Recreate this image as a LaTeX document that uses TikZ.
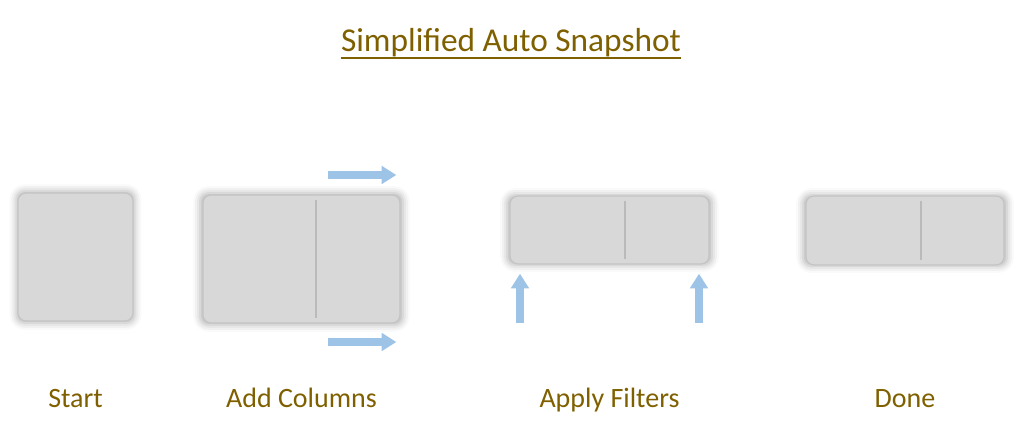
\documentclass[tikz,border=0pt]{standalone}
\usepackage{fontspec}
\setmainfont{Carlito}
\usepackage{xcolor}
\usetikzlibrary{positioning,arrows.meta,shadows.blur}
\definecolor{labelgold}{RGB}{127,96,0}
\definecolor{boxgrey}{RGB}{216,216,216}
\definecolor{boxline}{RGB}{196,196,196}
\definecolor{arrowblue}{RGB}{157,195,230}

\begin{document}
\begin{tikzpicture}[x=0.75pt,y=-0.75pt,
		table/.style = {rectangle, rounded corners=6pt, fill=boxgrey, draw=boxline, line width=0.9pt,
			blur shadow={shadow xshift=0pt, shadow yshift=0pt, shadow blur radius=5pt, shadow opacity=30, shadow scale=1.03},
			inner sep=0pt},
		divider/.style = {draw=black!27, line width=1.4pt},
		label/.style = {text=labelgold, font=\fontsize{21}{23}\selectfont},
		blockarrow/.style = {draw=arrowblue, line width=6pt, -{Triangle[length=11pt,width=13pt]}, shorten >=-1pt}]
	\useasboundingbox (0,0) rectangle (1024,442);

	\node[text=labelgold, font=\fontsize{25}{27}\selectfont, inner sep=0pt, anchor=base] (title) at (511,52) {Simplified Auto Snapshot};
	\draw[labelgold, line width=1.3pt] ([yshift=-4.5pt]title.base west) -- ([yshift=-4.5pt]title.base east);

	\node[table, minimum width=86.25pt, minimum height=96pt] (start) at (75.5,257) {};
	\node[table, minimum width=147.75pt, minimum height=96pt] (add) at (301.5,259) {};
	\node[table, minimum width=149.25pt, minimum height=51pt] (apply) at (609.5,230) {};
	\node[table, minimum width=148.5pt, minimum height=51.75pt] (done) at (905,230.5) {};

	\draw[divider] ([xshift=85.5pt,yshift=-4pt]add.north west) -- ([xshift=85.5pt,yshift=4pt]add.south west);
	\draw[divider] ([xshift=87pt,yshift=-4pt]apply.north west) -- ([xshift=87pt,yshift=4pt]apply.south west);
	\draw[divider] ([xshift=87pt,yshift=-4pt]done.north west) -- ([xshift=87pt,yshift=4pt]done.south west);

	\coordinate (topfrom) at (328,175);
	\coordinate (topto) at (395,175);
	\coordinate (botfrom) at (328,342);
	\coordinate (botto) at (395,342);
	\coordinate (leftfrom) at (520,323);
	\coordinate (leftto) at (520,275);
	\coordinate (rightfrom) at (699,323);
	\coordinate (rightto) at (699,275);

	\draw[blockarrow] (topfrom) -- (topto);
	\draw[blockarrow] (botfrom) -- (botto);
	\draw[blockarrow] (leftfrom) -- (leftto);
	\draw[blockarrow] (rightfrom) -- (rightto);

	\node[label, anchor=base] (startlabel) at (75.5,407) {Start};
	\node[label, anchor=base] (addlabel) at (301.5,407) {Add Columns};
	\node[label, anchor=base] (applylabel) at (609.5,407) {Apply Filters};
	\node[label, anchor=base] (donelabel) at (905,407) {Done};
\end{tikzpicture}
\end{document}
